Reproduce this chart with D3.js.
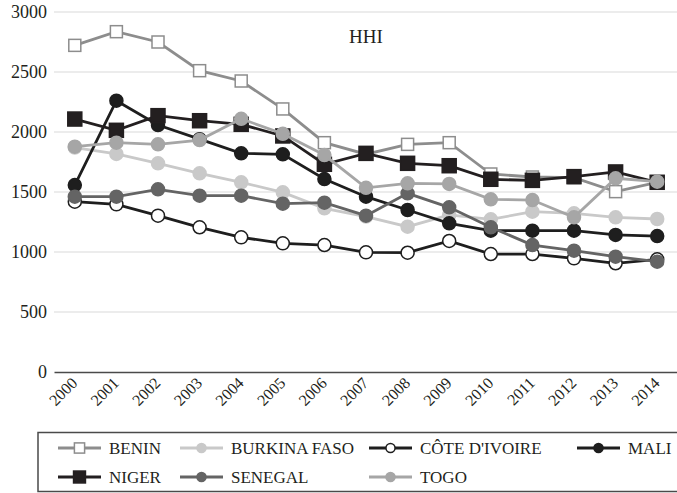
<!DOCTYPE html>
<html>
<head>
<meta charset="utf-8">
<script src="https://cdn.jsdelivr.net/npm/d3@7"></script>
<style>
  body { margin: 0; background: #fff; }
  svg { display: block; }
  text { font-family: "Liberation Serif", "DejaVu Serif", serif; fill: #231f20; }
</style>
</head>
<body>
<svg id="chart"></svg>
<script>
const years = ["2000","2001","2002","2003","2004","2005","2006","2007","2008","2009","2010","2011","2012","2013","2014"];
const yTicks = [0, 500, 1000, 1500, 2000, 2500, 3000];

const benin       = [2722, 2836, 2750, 2511, 2425, 2192, 1911, 1815, 1897, 1911, 1650, 1625, 1620, 1503, 1580];
const burkinaFaso = [1870, 1817, 1739, 1656, 1581, 1497, 1364, 1295, 1211, 1310, 1272, 1336, 1322, 1289, 1275];
const coteIvoire  = [1419, 1397, 1303, 1206, 1122, 1072, 1058,  997,  994, 1092,  983,  983,  947,  906,  939];
const mali        = [1558, 2261, 2058, 1940, 1822, 1814, 1608, 1461, 1350, 1239, 1178, 1178, 1178, 1142, 1133];
const niger       = [2108, 2014, 2136, 2094, 2064, 1967, 1731, 1822, 1739, 1719, 1606, 1597, 1628, 1667, 1581];
const senegal     = [1461, 1461, 1522, 1469, 1469, 1403, 1411, 1303, 1489, 1372, 1206, 1058, 1011,  961,  919];
const togo        = [1878, 1911, 1897, 1933, 2110, 1985, 1808, 1535, 1572, 1567, 1439, 1433, 1289, 1614, 1586];

const seriesNames = ["BENIN", "BURKINA FASO", "CÔTE D'IVOIRE", "MALI", "NIGER", "SENEGAL", "TOGO"];

const series = [
  {name: seriesNames[0], values: benin,       line: "#8d8d8d", fill: "#fff",    stroke: "#8d8d8d", shape: "square", size: 12},
  {name: seriesNames[1], values: burkinaFaso, line: "#c9c9c9", fill: "#c9c9c9", stroke: "#c9c9c9", shape: "circle", size: 13},
  {name: seriesNames[2], values: coteIvoire,  line: "#1e1e1e", fill: "#fff",    stroke: "#1e1e1e", shape: "circle", size: 13},
  {name: seriesNames[3], values: mali,        line: "#1e1e1e", fill: "#1e1e1e", stroke: "#1e1e1e", shape: "circle", size: 13},
  {name: seriesNames[4], values: niger,       line: "#231f20", fill: "#231f20", stroke: "#231f20", shape: "square", size: 14},
  {name: seriesNames[5], values: senegal,     line: "#646464", fill: "#646464", stroke: "#646464", shape: "circle", size: 13},
  {name: seriesNames[6], values: togo,        line: "#a6a6a6", fill: "#a6a6a6", stroke: "#a6a6a6", shape: "circle", size: 13}
];

const W = 677, H = 493;
const svg = d3.select("#chart").attr("width", W).attr("height", H);

const x = d3.scalePoint().domain(years).range([54, 678]).padding(0.5);
const y = d3.scaleLinear().domain([0, 3000]).range([372, 12]);

// gridlines
svg.append("g")
  .selectAll("line")
  .data(yTicks.filter(d => d > 0))
  .enter().append("line")
    .attr("x1", 54).attr("x2", 678)
    .attr("y1", d => y(d)).attr("y2", d => y(d))
    .attr("stroke", "#d9d9d9").attr("stroke-width", 1.2);

// y axis labels
const yAxis = svg.append("g")
  .attr("transform", "translate(54,0)")
  .call(d3.axisLeft(y).tickValues(yTicks).tickFormat(d3.format("d")).tickSize(0).tickPadding(7));
yAxis.select(".domain").remove();
yAxis.selectAll("text")
  .style("font-family", "'Liberation Serif', serif")
  .style("font-size", "18px")
  .attr("fill", "#231f20");

// x axis
const xAxis = svg.append("g")
  .attr("transform", "translate(0," + y(0) + ")")
  .call(d3.axisBottom(x).tickSize(0).tickPadding(0));
xAxis.select(".domain").attr("stroke", "#4a4a4a").attr("stroke-width", 1.5);
xAxis.selectAll("text")
  .style("font-family", "'Liberation Serif', serif")
  .style("font-size", "16px")
  .attr("fill", "#231f20")
  .attr("text-anchor", "end")
  .attr("dy", null)
  .attr("y", 0)
  .attr("transform", "translate(3,12) rotate(-45)");

// title
svg.append("text")
  .attr("x", 366).attr("y", 43)
  .attr("text-anchor", "middle")
  .style("font-size", "19px")
  .text("HHI");

const line = d3.line()
  .x((d, i) => x(years[i]))
  .y(d => y(d));

function drawMarker(g, s, cx, cy, scale) {
  const k = scale || 1;
  if (s.shape === "square") {
    const sz = s.size * k;
    g.append("rect")
      .attr("x", cx - sz / 2).attr("y", cy - sz / 2)
      .attr("width", sz).attr("height", sz)
      .attr("fill", s.fill).attr("stroke", s.stroke).attr("stroke-width", 1.5);
  } else {
    g.append("circle")
      .attr("cx", cx).attr("cy", cy).attr("r", s.size * k / 2)
      .attr("fill", s.fill).attr("stroke", s.stroke).attr("stroke-width", 1.5);
  }
}

series.forEach(s => {
  const g = svg.append("g");
  g.append("path")
    .attr("d", line(s.values))
    .attr("fill", "none")
    .attr("stroke", s.line)
    .attr("stroke-width", 2.8);
  s.values.forEach((v, i) => drawMarker(g, s, x(years[i]), y(v)));
});

// legend
const legend = svg.append("g");
legend.append("rect")
  .attr("x", 38).attr("y", 432.5)
  .attr("width", 660).attr("height", 59)
  .attr("fill", "none").attr("stroke", "#4a4a4a").attr("stroke-width", 1.5);

const legendPos = [
  [58, 448], [180, 448], [369, 448], [577, 448],
  [58, 477], [180, 477], [369, 477]
];
series.forEach((s, i) => {
  const [lx, ly] = legendPos[i];
  const g = legend.append("g");
  g.append("line")
    .attr("x1", lx).attr("x2", lx + 43)
    .attr("y1", ly).attr("y2", ly)
    .attr("stroke", s.line).attr("stroke-width", 2.8);
  drawMarker(g, s, lx + 21.5, ly, s.shape === "square" ? 0.85 : 0.7);
  g.append("text")
    .attr("x", lx + 51).attr("y", ly + 6)
    .style("font-size", "17px")
    .text(s.name);
});
</script>
</body>
</html>
